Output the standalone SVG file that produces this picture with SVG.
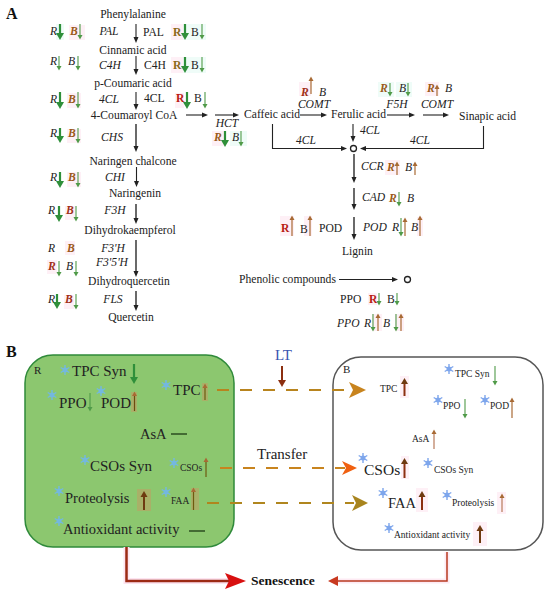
<svg xmlns="http://www.w3.org/2000/svg" width="550" height="593" viewBox="0 0 550 593">
<style>
text{font-family:"Liberation Serif","Times New Roman",serif;font-size:11.600px;fill:#222}
.i{font-style:italic}.m{text-anchor:middle}.h{font-weight:bold;font-size:16px;fill:#111}
.rb{font-weight:bold;font-style:italic;fill:#a03018}.bb{font-weight:bold;font-style:italic;fill:#9a5a1a}
.rn{font-weight:bold;fill:#b81c14}.rs{font-weight:bold;fill:#8a6a1a}
.s{font-size:9.500px}.l{font-size:15px}.t{font-size:14.500px}
.a{fill:none;stroke:#222;stroke-width:1.100;marker-end:url(#mk)}
.A{fill:none;stroke:#444;stroke-width:1.600;marker-end:url(#mk)}
.g{stroke:#4f9a48;stroke-width:1.100;marker-end:url(#mg)}
.G{stroke:#2f8f3a;stroke-width:2.200;marker-end:url(#mG)}
.b{stroke:#a86a34;stroke-width:1.200;marker-end:url(#mb)}
.B{stroke:#6e3a10;stroke-width:2;marker-end:url(#mB)}
.p{fill:#fef0f6}.q{fill:#a9b068}.c{fill:#effcf8}
.sn{stroke:#74b8e0;stroke-width:1.400;fill:none}
.sb{stroke:#7ea6ec;stroke-width:1.400;fill:none}
.d{fill:none;stroke-width:2;stroke-dasharray:12 11}
</style>
<defs>
<marker id="mk" markerUnits="userSpaceOnUse" markerWidth="7" markerHeight="6" refX="0" refY="3" orient="auto"><path d="M0 .5L6 3L0 5.500z" fill="#222"/></marker>
<marker id="mg" markerUnits="userSpaceOnUse" markerWidth="6" markerHeight="6" refX="0" refY="3" orient="auto"><path d="M0 .5L4.500 3L0 5.500z" fill="#4f9a48"/></marker>
<marker id="mG" markerUnits="userSpaceOnUse" markerWidth="8" markerHeight="9" refX="0" refY="4.500" orient="auto"><path d="M0 .5L7 4.500L0 8.500z" fill="#2f8f3a"/></marker>
<marker id="mb" markerUnits="userSpaceOnUse" markerWidth="6" markerHeight="6" refX="0" refY="3" orient="auto"><path d="M0 .5L4.500 3L0 5.500z" fill="#a86a34"/></marker>
<marker id="mB" markerUnits="userSpaceOnUse" markerWidth="8" markerHeight="8" refX="0" refY="4" orient="auto"><path d="M0 .5L6 4L0 7.500z" fill="#6e3a10"/></marker>
<g id="f"><path d="M0-5V5M-4.300-2.500L4.300 2.500M-4.300 2.500L4.300-2.500"/><circle r="1.800"/></g>
</defs>

<g id="panel-a-labels"><text class="h" x="6" y="19">A</text><text class="h" x="6" y="357">B</text></g>

<g id="halos">
<rect class="p" x="69" y="25" width="16" height="15"/><rect class="c" x="56" y="24" width="8" height="16"/>
<rect class="p" x="171" y="24" width="12" height="16"/><rect class="c" x="183" y="24" width="23" height="16"/>
<rect class="p" x="171" y="57" width="12" height="16"/><rect class="c" x="183" y="57" width="23" height="16"/>
<rect class="p" x="67" y="93" width="14" height="15"/><rect class="p" x="175" y="93" width="9" height="15"/>
<rect class="p" x="67" y="129" width="14" height="14"/><rect class="p" x="67" y="172" width="14" height="15"/>
<rect class="p" x="65" y="206" width="10" height="14"/><rect class="p" x="65" y="241" width="10" height="14"/>
<rect class="p" x="47" y="260" width="10" height="14"/><rect class="p" x="64" y="295" width="10" height="14"/>
<rect class="p" x="212" y="131" width="12" height="15"/><rect class="c" x="230" y="131" width="17" height="15"/>
<rect class="p" x="299" y="82" width="12" height="14"/><rect class="c" x="378" y="82" width="16" height="15"/><rect class="c" x="396" y="82" width="16" height="15"/>
<rect class="p" x="425" y="82" width="14" height="14"/><rect class="p" x="385" y="160" width="15" height="15"/>
<rect class="p" x="280" y="216" width="14" height="20"/><rect class="p" x="304" y="216" width="8" height="20"/><rect class="p" x="417" y="217" width="6" height="19"/>
<rect class="p" x="368" y="293" width="9" height="12"/><rect class="p" x="372" y="314" width="10" height="17"/><rect class="p" x="395" y="314" width="9" height="17"/>
</g>

<g id="connectors">
<path class="a" d="M136 24V37"/><path class="a" d="M136 56V69"/><path class="a" d="M136 92V104"/><path class="A" d="M136 124V146"/>
<path class="a" d="M136.500 167V181"/><path class="A" d="M136 204V218"/><path class="A" d="M136 240V271"/><path class="A" d="M136 291V305"/>
<path class="a" d="M186 115H202"/><path class="a" d="M215 115H233"/><path class="a" d="M300 115H321"/><path class="a" d="M387 115H409"/><path class="a" d="M423 115H443"/>
<path class="a" d="M353 124V136"/><path class="a" d="M272.500 124V148.500H341"/><path class="a" d="M483.500 126V148.500H366"/>
<circle cx="353.500" cy="148.500" r="3" fill="none" stroke="#222" stroke-width="1.300"/>
<path class="A" d="M354 154V177"/><path class="A" d="M354 188V204"/><path class="A" d="M354 217V234"/>
<path class="a" d="M339 279.500H392"/><circle cx="407.500" cy="279.500" r="3" fill="none" stroke="#222" stroke-width="1.300"/>
</g>

<g id="pathway-text">
<text class="m" x="133" y="18">Phenylalanine</text><text class="m" x="133" y="54">Cinnamic acid</text><text class="m" x="133" y="87">p-Coumaric acid</text><text class="m" x="134" y="119">4-Coumaroyl CoA</text><text class="m" x="133" y="165">Naringen chalcone</text><text class="m" x="135" y="197">Naringenin</text><text class="m" x="130" y="234">Dihydrokaempferol</text><text class="m" x="129" y="285">Dihydroquercetin</text><text class="m" x="131" y="321">Quercetin</text>
<text x="244" y="118">Caffeic acid</text><text x="331" y="118">Ferulic acid</text><text x="459" y="120">Sinapic acid</text><text x="342" y="255">Lignin</text><text x="239" y="283">Phenolic compounds</text>
<text class="i m" x="109" y="35">PAL</text><text class="i m" x="110" y="69">C4H</text><text class="i m" x="109" y="103">4CL</text><text class="i m" x="112" y="141">CHS</text><text class="i m" x="115" y="181">CHI</text><text class="i m" x="115" y="214">F3H</text><text class="i m" x="113" y="252">F3'H</text><text class="i m" x="112" y="266">F3'5'H</text><text class="i m" x="113" y="303">FLS</text>
<text class="i m" x="227" y="127">HCT</text><text class="i m" x="314" y="108">COMT</text><text class="i m" x="397" y="108">F5H</text><text class="i m" x="437" y="108">COMT</text><text class="i" x="360" y="134">4CL</text><text class="i m" x="306" y="144">4CL</text><text class="i m" x="420" y="144">4CL</text><text class="i" x="361" y="170">CCR</text><text class="i" x="362" y="201">CAD</text><text class="i" x="363" y="231">POD</text><text class="i" x="337" y="327">PPO</text>
<text x="143" y="36">PAL</text><text x="144" y="69">C4H</text><text x="144" y="102">4CL</text><text x="319" y="232">POD</text><text x="340" y="303">PPO</text>
</g>

<g id="regulation-labels">
<text class="i" x="50" y="35">R</text><text class="bb" x="70" y="35">B</text><text class="i" x="50" y="65">R</text><text class="i" x="68" y="65">B</text>
<text class="i" x="50" y="103">R</text><text class="bb" x="68" y="103">B</text><text class="i" x="50" y="137">R</text><text class="bb" x="68" y="137">B</text>
<text class="i" x="50" y="181">R</text><text class="bb" x="68" y="181">B</text><text class="i" x="48" y="214">R</text><text class="rb" x="66" y="214">B</text>
<text class="i" x="48" y="252">R</text><text class="bb" x="67" y="252">B</text><text class="rb" x="48" y="270">R</text><text class="i" x="66" y="270">B</text>
<text class="i" x="48" y="303">R</text><text class="rb" x="65" y="303">B</text>
<text class="rs" x="173" y="36">R</text><text x="191" y="36">B</text><text class="rs" x="173" y="69">R</text><text x="191" y="69">B</text><text class="rn" x="176" y="102">R</text><text x="194" y="102">B</text>
<text class="bb" x="214" y="141">R</text><text class="i" x="232" y="141">B</text><text class="rb" x="301" y="96">R</text><text class="i" x="319" y="96">B</text><text class="bb" x="380" y="92">R</text><text class="i" x="399" y="92">B</text><text class="bb" x="427" y="92">R</text><text class="i" x="445" y="92">B</text>
<text class="bb" x="387" y="171">R</text><text class="i" x="405" y="171">B</text><text class="bb" x="389" y="202">R</text><text class="i" x="407" y="202">B</text>
<text class="rn" x="281" y="232">R</text><text x="300" y="233">B</text><text class="i" x="392" y="231">R</text><text class="i" x="411" y="231">B</text>
<text class="rn" x="369" y="303">R</text><text x="387" y="303">B</text><text class="i" x="364" y="327">R</text><text class="i" x="383" y="327">B</text>
</g>

<g id="regulation-arrows">
<path class="G" d="M60 24V33"/><path class="g" d="M80 24V35"/><path class="g" d="M59 56V66"/><path class="g" d="M78 56V66"/>
<path class="G" d="M60 92V102"/><path class="g" d="M78 92V104"/><path class="G" d="M60 128V136"/><path class="g" d="M78 128V139"/>
<path class="G" d="M60 172V181"/><path class="g" d="M78 172V183"/><path class="G" d="M59 206V215"/><path class="g" d="M76 206V217"/>
<path class="g" d="M59 261V272"/><path class="g" d="M76 261V272"/><path class="G" d="M57 294V302"/><path class="g" d="M76 294V305"/>
<path class="G" d="M185 24V33"/><path class="g" d="M202 24V35"/><path class="G" d="M185 57V66"/><path class="g" d="M202 57V68"/><path class="G" d="M187 92V102"/><path class="g" d="M205 92V104"/>
<path class="G" d="M225 131V140"/><path class="g" d="M241 131V142"/><path class="b" d="M311 94V81"/><path class="g" d="M390 83V92"/><path class="g" d="M408 83V92"/><path class="b" d="M437 96V89"/>
<path class="b" d="M397 175V166"/><path class="b" d="M415 175V166"/><path class="g" d="M399 192V202"/>
<path class="b" d="M292 236V220"/><path class="b" d="M310 236V220"/><path class="g" d="M401 218V232"/><path class="b" d="M405 236V222"/><path class="b" d="M420 236V220"/>
<path class="g" d="M379 293V301"/><path class="g" d="M397 293V301"/><path class="g" d="M373 314V327"/><path class="b" d="M378 331V318"/><path class="g" d="M396 314V327"/><path class="b" d="M401 331V318"/>
</g>

<g id="node-R">
<rect x="25" y="355" width="209" height="192" rx="28" fill="#8cc76f" stroke="#2f8a3a" stroke-width="1.500"/>
<rect class="q" x="131" y="392" width="6" height="20"/><rect class="q" x="202" y="383" width="6" height="18"/><rect class="q" x="137" y="489" width="14" height="22"/><rect class="q" x="191" y="488" width="8" height="22"/>
<text x="34" y="374" style="font-size:11px">R</text>
<text class="l" x="72" y="376">TPC Syn</text><path class="G" d="M134 364V377"/>
<text class="l" x="59" y="408">PPO</text><path class="g" d="M90 393V407"/>
<text class="l" x="101" y="408">POD</text><path class="b" d="M134.500 411V396" style="stroke:#6e4a10"/>
<text class="l" x="173" y="395">TPC</text><path class="b" d="M205 400V388" style="stroke:#6e5a10"/>
<text class="t" x="140" y="439">AsA</text><path d="M171 434H187" stroke="#1c3a14" stroke-width="1.300"/>
<text class="l" x="90" y="471">CSOs Syn</text><text class="s" x="180" y="471">CSOs</text><path class="b" d="M206 477V462" style="stroke:#6e5a10"/>
<text class="t" x="65" y="503">Proteolysis</text><path class="B" d="M144 510V497"/>
<text class="s" x="171" y="504">FAA</text><path class="b" d="M193.500 510V492" style="stroke:#6e5a10"/>
<text class="t" x="63" y="534">Antioxidant activity</text><path d="M189 531H205" stroke="#1c3a14" stroke-width="1.300"/>
<use href="#f" class="sn" x="65" y="370"/><use href="#f" class="sn" x="52" y="395"/><use href="#f" class="sn" x="101" y="391"/><use href="#f" class="sn" x="166" y="385"/><use href="#f" class="sn" x="85" y="460"/><use href="#f" class="sn" x="174" y="463"/><use href="#f" class="sn" x="59" y="491"/><use href="#f" class="sn" x="166" y="492"/><use href="#f" class="sn" x="59" y="521"/>
</g>

<g id="node-B">
<rect x="333" y="357" width="210" height="193" rx="28" fill="none" stroke="#555" stroke-width="1.500"/>
<text x="343" y="373" style="font-size:11px">B</text>
<rect class="p" x="400" y="376" width="9" height="22"/><rect class="p" x="401" y="456" width="8" height="23"/><rect class="p" x="416" y="488" width="12" height="24"/><rect class="p" x="497" y="492" width="9" height="22"/><rect class="p" x="473" y="522" width="14" height="24"/>
<text class="s" x="380" y="392">TPC</text><path class="B" d="M404.500 396V384" style="stroke:#8c3010"/>
<text class="s" x="455" y="377">TPC Syn</text><path class="g" d="M495 366V381"/>
<text class="s" x="443" y="409">PPO</text><path class="g" d="M465 399V414"/>
<text class="s" x="490" y="409">POD</text><path class="b" d="M512 418V402"/>
<text class="s" x="412" y="442">AsA</text><path class="b" d="M434 449V434" style="stroke:#b87a5a"/>
<text style="font-size:15.500px" x="364" y="475">CSOs</text><path class="B" d="M404.500 478V464" style="stroke:#8c3010"/>
<text class="s" x="434" y="473">CSOs Syn</text>
<text style="font-size:14.500px" x="388" y="508">FAA</text><path class="B" d="M422 510V497" style="stroke:#8c3010"/>
<text class="s" x="452" y="506">Proteolysis</text><path class="b" d="M502 512V498" style="stroke:#b87a5a"/>
<text class="s" x="394" y="538">Antioxidant activity</text><path class="B" d="M480 543V531"/>
<use href="#f" class="sb" x="449" y="369"/><use href="#f" class="sb" x="438" y="400"/><use href="#f" class="sb" x="485" y="400"/><use href="#f" class="sb" x="363" y="458"/><use href="#f" class="sb" x="428" y="463"/><use href="#f" class="sb" x="383" y="493"/><use href="#f" class="sb" x="447" y="495"/><use href="#f" class="sb" x="389" y="528"/>
</g>

<g id="transfer-connectors">
<path class="d" d="M217 390H350" stroke="#b8841e"/><path d="M349 382L366 390L349 398L353 390z" fill="#c8841e"/>
<path class="d" d="M220 468H345" stroke="#c8841e"/><path d="M342 461L357 468L342 475L346 468z" fill="#f06010"/>
<path class="d" d="M207 503H354" stroke="#b0861e"/><path d="M352 495L368 503L352 511L356 503z" fill="#a8841e"/>
<path d="M282 366V382" stroke="#8c2f10" stroke-width="2"/><path d="M278 380L282 387L286 380z" fill="#8c2f10"/>
<text x="275" y="360" style="font-size:15px;fill:#3a55b0">LT</text>
<text x="257" y="459" style="font-size:15px">Transfer</text>
</g>

<g id="senescence">
<path d="M126.500 547V581H230" fill="none" stroke="#fde4f0" stroke-width="6"/>
<path d="M126.500 547V581H230" fill="none" stroke="#9c2a14" stroke-width="2.500"/>
<path d="M225 573L246 581L225 589L229 581z" fill="#d81010"/>
<path d="M447 552V581H338" fill="none" stroke="#fdeaf3" stroke-width="5"/>
<path d="M447 552V581H336" fill="none" stroke="#b83a20" stroke-width="1.500"/>
<path d="M338 576L328 581L338 586z" fill="#c83a20"/>
<text x="251" y="585" style="font-weight:bold;font-size:13.500px;fill:#111">Senescence</text>
</g>
</svg>
